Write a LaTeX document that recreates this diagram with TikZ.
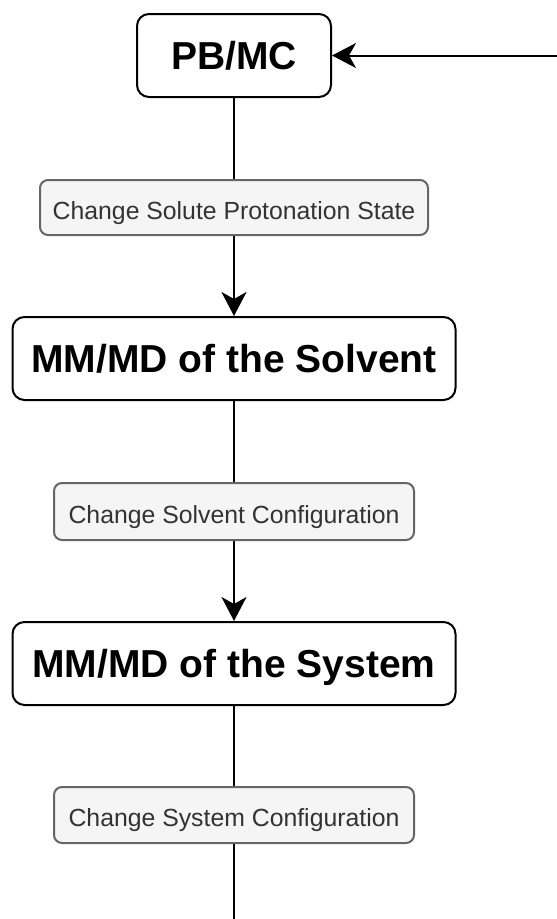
\documentclass[tikz,border=0pt]{standalone}
\usepackage{fontspec}
\setmainfont{Liberation Sans}
\usetikzlibrary{arrows.meta}
\definecolor{lblfill}{HTML}{F5F5F5}
\definecolor{lbldraw}{HTML}{666666}
\definecolor{lbltext}{HTML}{333333}
\begin{document}
\begin{tikzpicture}[x=1pt,y=-1pt,
  mainbox/.style={draw=black, line width=2pt, fill=white, rounded corners=12pt,
    font=\fontsize{39}{42}\selectfont\bfseries, inner sep=0pt,
    text height=28pt, text depth=0pt},
  lblbox/.style={draw=lbldraw, line width=2pt, fill=lblfill, rounded corners=8pt,
    text=lbltext, font=\fontsize{24.8}{28}\selectfont, inner sep=0pt,
    text height=23.6pt, text depth=0pt},
  conn/.style={line width=2pt, draw=black},
  arr/.style={conn, -{Stealth[length=24pt, width=25pt, inset=7pt]}}
]
\useasboundingbox (0,0) rectangle (557,919);
\node[mainbox, minimum width=194pt, minimum height=83pt] (pb) at (234,55.5) {PB/MC};
\node[lblbox, minimum width=388pt, minimum height=55pt] (l1) at (234,207.5) {Change Solute Protonation State};
\node[mainbox, minimum width=443pt, minimum height=83pt] (solv) at (234,358.5) {MM/MD of the Solvent};
\node[lblbox, minimum width=360pt, minimum height=57pt] (l2) at (234,511.5) {Change Solvent Configuration};
\node[mainbox, minimum width=443pt, minimum height=83pt] (sys) at (234,663.5) {MM/MD of the System};
\node[lblbox, minimum width=360pt, minimum height=56pt] (l3) at (234,815) {Change System Configuration};
\coordinate (bot) at (234,919);
\coordinate (rt) at (557,55.5);
\draw[conn] (pb.south) -- (l1.north);
\draw[arr] (l1.south) -- (solv.north);
\draw[conn] (solv.south) -- (l2.north);
\draw[arr] (l2.south) -- (sys.north);
\draw[conn] (sys.south) -- (l3.north);
\draw[conn] (l3.south) -- (bot);
\draw[arr] (rt) -- (pb.east);
\end{tikzpicture}
\end{document}
